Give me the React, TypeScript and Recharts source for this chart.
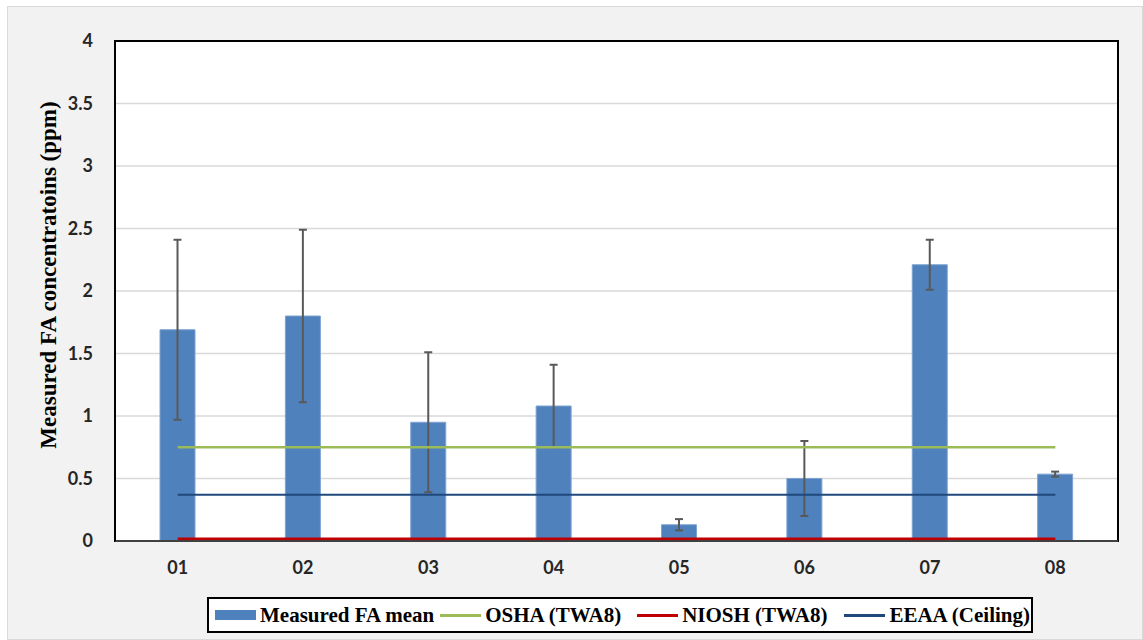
import React from 'react';
import { ComposedChart, Bar, Line, XAxis, YAxis, CartesianGrid, ErrorBar, ReferenceArea } from 'recharts';

const categories = ['01', '02', '03', '04', '05', '06', '07', '08'];
const measuredMean = [1.69, 1.80, 0.95, 1.08, 0.13, 0.50, 2.21, 0.535];
const measuredErr = [0.72, 0.69, 0.56, 0.33, 0.045, 0.30, 0.20, 0.02];
const oshaTwa8 = [0.75, 0.75, 0.75, 0.75, 0.75, 0.75, 0.75, 0.75];
const nioshTwa8 = [0.016, 0.016, 0.016, 0.016, 0.016, 0.016, 0.016, 0.016];
const eeaaCeiling = [0.37, 0.37, 0.37, 0.37, 0.37, 0.37, 0.37, 0.37];
const yTicks = [0, 0.5, 1, 1.5, 2, 2.5, 3, 3.5, 4];
const yLabel = 'Measured FA concentratoins (ppm)';

const data = categories.map((c, i) => ({
  cat: c,
  mean: measuredMean[i],
  err: measuredErr[i],
  osha: oshaTwa8[i],
  niosh: nioshTwa8[i],
  eeaa: eeaaCeiling[i],
}));

const legendLabels = ['Measured FA mean', 'OSHA (TWA8)', 'NIOSH (TWA8)', 'EEAA (Ceiling)'];
const legendColors = ['#4f81bd', '#9bbb59', '#c00000', '#1f497d'];
const legendSwatchHeights = [10, 3, 3, 3];
const legendGaps = [6, 16, 17, 0];

const tickFont = { fontFamily: 'Lato, "Open Sans", sans-serif', fontWeight: 700, fontSize: 18, fill: '#262626' };
const serif = '"Liberation Serif", "Times New Roman", serif';

function YLabel(props: any) {
  const vb = props.viewBox || {};
  const cx = vb.x + 48;
  const cy = vb.y + vb.height / 2 - 16;
  return (
    <text
      x={cx}
      y={cy}
      transform={`rotate(-90, ${cx}, ${cy})`}
      textAnchor="middle"
      dominantBaseline="central"
      style={{ fontFamily: serif, fontWeight: 700, fontSize: 23, fill: '#000' }}
    >
      {yLabel}
    </text>
  );
}

export default function App() {
  return (
    <div style={{ position: 'absolute', left: 0, top: 0, width: 1143, height: 640, background: '#ffffff' }}>
      <div
        style={{
          position: 'absolute',
          left: 7,
          top: 6,
          width: 1134,
          height: 632,
          background: '#f2f2f2',
          border: '1px solid #d9d9d9',
        }}
      />
      <div style={{ position: 'absolute', left: 0, top: 0 }}>
        <ComposedChart
          width={1143}
          height={640}
          data={data}
          margin={{ top: 41, right: 25, left: 0, bottom: 69 }}
          barSize={35}
        >
          <CartesianGrid vertical={false} stroke="#d9d9d9" strokeWidth={1.5} fill="#ffffff" fillOpacity={1} />
          <ReferenceArea y1={0} y2={4} fill="none" stroke="#000" strokeWidth={2} ifOverflow="visible" />
          <XAxis
            dataKey="cat"
            height={30}
            axisLine={{ stroke: '#404040', strokeWidth: 2 }}
            tickLine={false}
            tick={tickFont}
            tickMargin={14}
            interval={0}
          />
          <YAxis
            domain={[0, 4]}
            ticks={yTicks}
            width={115}
            axisLine={{ stroke: '#000', strokeWidth: 2 }}
            tickLine={false}
            tick={tickFont}
            tickMargin={16}
            label={<YLabel />}
          />
          <Bar dataKey="mean" fill="#4f81bd" stroke="#7ea3d3" strokeWidth={1} isAnimationActive={false}>
            <ErrorBar dataKey="err" width={4} stroke="#595959" strokeWidth={2} direction="y" />
          </Bar>
          <Line dataKey="osha" stroke="#9bbb59" strokeWidth={2.5} dot={false} isAnimationActive={false} />
          <Line dataKey="eeaa" stroke="#1f497d" strokeWidth={2} dot={false} isAnimationActive={false} />
          <Line dataKey="niosh" stroke="#c00000" strokeWidth={3} dot={false} isAnimationActive={false} />
        </ComposedChart>
      </div>
      <div
        style={{
          position: 'absolute',
          left: 207,
          top: 597,
          height: 32,
          border: '2px solid #000',
          background: '#ffffff',
          display: 'flex',
          alignItems: 'center',
          paddingLeft: 6,
          paddingRight: 1,
          boxSizing: 'content-box',
          whiteSpace: 'nowrap',
        }}
      >
        {legendLabels.map((label, i) => (
          <div key={label} style={{ display: 'flex', alignItems: 'center', marginRight: legendGaps[i] }}>
            <div
              style={{
                width: 41,
                height: legendSwatchHeights[i],
                background: legendColors[i],
                marginRight: 4,
              }}
            />
            <span style={{ fontFamily: serif, fontWeight: 700, fontSize: 21, color: '#000' }}>{label}</span>
          </div>
        ))}
      </div>
    </div>
  );
}
